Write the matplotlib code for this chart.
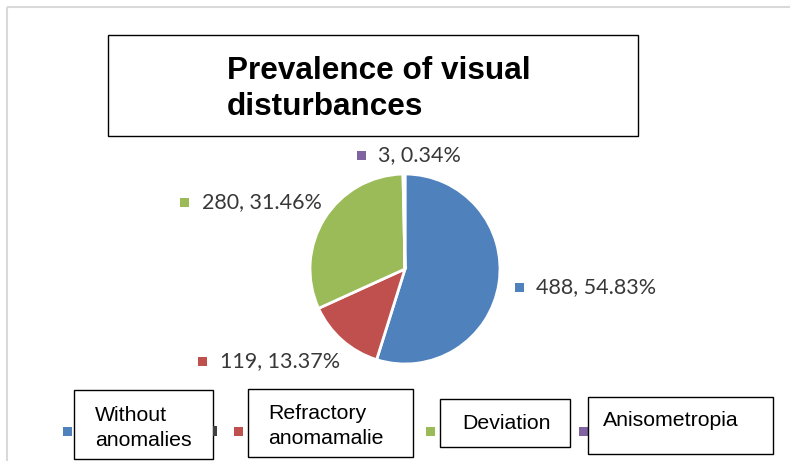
import matplotlib
matplotlib.use("Agg")
import matplotlib.pyplot as plt
from matplotlib.patches import Rectangle

# ---- data ----
categories = ["Without\nanomalies", "Refractory\nanomamalie", "Deviation", "Anisometropia"]
counts = [488, 119, 280, 3]
colors = ["#4F81BD", "#C0504D", "#9BBB59", "#8064A2"]
title = "Prevalence of visual\ndisturbances"

total = sum(counts)
labels = [f"{c}, {c / total * 100:.2f}%" for c in counts]

W, H = 790, 461
fig = plt.figure(figsize=(W / 100, H / 100), dpi=100)
fig.patch.set_facecolor("white")

# overlay axes in pixel coordinates (y downwards)
ov = fig.add_axes([0, 0, 1, 1])
ov.set_xlim(0, W)
ov.set_ylim(H, 0)
ov.axis("off")

# outer frame lines (top and left)
ov.plot([7, W], [7, 7], color="#d9d9d9", lw=1.5, solid_capstyle="butt")
ov.plot([7, 7], [7, H], color="#d9d9d9", lw=1.5, solid_capstyle="butt")

# title box
ov.add_patch(Rectangle((108, 35), 530, 101, fill=False, ec="black", lw=1.0))
ov.text(227, 89, title, fontsize=22.7, fontweight="bold", family="Liberation Sans",
        ha="left", va="center", linespacing=1.3, color="black")

# pie axes
cx, cy, r = 405, 269, 95
pax = fig.add_axes([(cx - r) / W, (H - (cy + r)) / H, 2 * r / W, 2 * r / H])
pax.pie(counts, colors=colors, startangle=90, counterclock=False,
        wedgeprops=dict(edgecolor="white", linewidth=2))
pax.set_xlim(-1, 1)
pax.set_ylim(-1, 1)
pax.axis("off")

# data labels (marker + text)
label_pos = [(519.5, 287), (202.5, 361), (184.5, 202), (361, 155)]
for (mx, my), lab, col in zip(label_pos, labels, colors):
    ov.add_patch(Rectangle((mx - 4.5, my - 4.5), 9, 9, color=col, lw=0))
    ov.text(mx + 17, my, lab, fontsize=15.5, family="Lato", color="#383838",
            ha="left", va="center")

# legend
leg_markers = [(67, 431), (238, 431), (430, 431), (583, 431)]
leg_boxes = [(74, 390, 139, 69), (248, 389, 165, 68), (440, 399, 130, 48), (588, 397, 185, 57)]
leg_text = [(95, 428), (268, 426), (462, 423), (603, 420)]
for (mx, my), (bx, by, bw, bh), (tx, ty), cat, col in zip(leg_markers, leg_boxes, leg_text, categories, colors):
    ov.add_patch(Rectangle((mx - 4.5, my - 4.5), 9, 9, color=col, lw=0))
    ov.add_patch(Rectangle((bx, by), bw, bh, fill=False, ec="black", lw=1.0))
    ov.text(tx, ty, cat, fontsize=15.3, family="Liberation Sans", color="black",
            ha="left", va="center", linespacing=1.4)
# small dark fragment next to first legend box
ov.add_patch(Rectangle((213, 426), 4, 10, color="#404040", lw=0))

fig.savefig("out.png", dpi=100)
